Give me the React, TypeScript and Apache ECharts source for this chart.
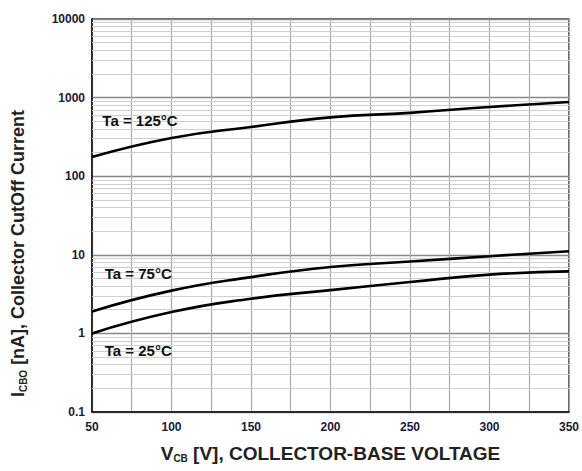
import React, { useEffect, useRef } from "react";
import * as echarts from "echarts";

const voltages = [50, 100, 150, 200, 250, 300, 350];
const ta125 = [175, 306, 423, 560, 640, 760, 880];
const ta75 = [1.9, 3.5, 5.2, 7.0, 8.2, 9.6, 11.1];
const ta25 = [1.0, 1.87, 2.76, 3.55, 4.5, 5.6, 6.15];
const yTickLabels = ["0.1", "1", "10", "100", "1000", "10000"];
const decades = [0.1, 1, 10, 100, 1000];
const minorMultipliers = [2, 3, 4, 5, 6, 7, 8, 9];
const curveLabels = [
  { name: "Ta = 125°C", x: 56.5, y: 504 },
  { name: "Ta = 75°C", x: 58, y: 5.8 },
  { name: "Ta = 25°C", x: 58, y: 0.61 },
];

const FONT = "Liberation Sans";

export default function App() {
  const ref = useRef<HTMLDivElement>(null);
  useEffect(() => {
    if (!ref.current) return;
    const chart = echarts.init(ref.current, undefined, { renderer: "svg" });
    const minorLines: any[] = [];
    decades.forEach((d) => minorMultipliers.forEach((m) => minorLines.push({ yAxis: +(d * m).toPrecision(3) })));
    const curveStyle = { color: "#000", width: 2.6 };
    const mk = (vals: number[]) => voltages.map((v, i) => [v, vals[i]]);
    const makeRich = (size: number) => ({
      b: { fontFamily: FONT, fontWeight: "bold", fontSize: size, color: "#222" },
      sub: { fontFamily: FONT, fontWeight: "bold", fontSize: 10, color: "#222", padding: [10, 0, 0, 0] },
    });
    chart.setOption({
      animation: false,
      backgroundColor: "#fff",
      grid: {
        left: 92,
        right: 12,
        top: 19,
        bottom: 59,
        show: true,
        borderColor: "#333",
        borderWidth: 1.5,
      },
      xAxis: {
        type: "value",
        min: 50,
        max: 350,
        interval: 25,
        name: "{b|V}{sub|CB}{b| [V], COLLECTOR-BASE VOLTAGE}",
        nameLocation: "middle",
        nameGap: 31,
        nameTextStyle: { rich: makeRich(19) },
        axisLine: { show: true, lineStyle: { color: "#111", width: 1.5 } },
        axisTick: { show: false },
        axisLabel: {
          fontFamily: FONT,
          fontWeight: "bold",
          fontSize: 12,
          color: "#1a1a3a",
          margin: 9,
          formatter: (v: number) => (v % 50 === 0 ? String(v) : ""),
        },
        splitLine: { show: true, lineStyle: { color: "#aaa", width: 1.2 } },
      },
      yAxis: {
        type: "log",
        logBase: 10,
        min: 0.1,
        max: 10000,
        name: "{b|I}{sub|CBO}{b| [nA], Collector CutOff Current}",
        nameLocation: "middle",
        nameRotate: 90,
        nameGap: 64,
        nameTextStyle: { rich: makeRich(18), padding: [0, 76, 0, 0] },
        axisLine: { show: true, lineStyle: { color: "#111", width: 1.5 } },
        axisTick: { show: false },
        axisLabel: {
          fontFamily: FONT,
          fontWeight: "bold",
          fontSize: 12,
          color: "#1a1a3a",
          margin: 7,
          formatter: (v: number) => {
            const idx = Math.round(Math.log10(v)) + 1;
            return yTickLabels[idx] ?? "";
          },
        },
        splitLine: { show: true, lineStyle: { color: "#888", width: 1.3 } },
      },
      series: [
        {
          type: "line",
          data: [],
          silent: true,
          markLine: {
            silent: true,
            symbol: ["none", "none"],
            label: { show: false },
            lineStyle: { color: "#cfcfcf", width: 1, type: "solid" },
            data: minorLines,
          },
        },
        {
          name: "Ta = 125°C",
          type: "line",
          data: mk(ta125),
          smooth: true,
          showSymbol: false,
          lineStyle: curveStyle,
          z: 5,
        },
        {
          name: "Ta = 75°C",
          type: "line",
          data: mk(ta75),
          smooth: true,
          showSymbol: false,
          lineStyle: curveStyle,
          z: 5,
        },
        {
          name: "Ta = 25°C",
          type: "line",
          data: mk(ta25),
          smooth: true,
          showSymbol: false,
          lineStyle: curveStyle,
          z: 5,
          markPoint: {
            silent: true,
            symbol: "rect",
            symbolSize: 0,
            data: curveLabels.map((c) => ({
              coord: [c.x, c.y],
              label: {
                show: true,
                formatter: c.name,
                position: "right",
                distance: 0,
                fontFamily: FONT,
                fontWeight: "bold",
                fontSize: 15,
                color: "#111",
              },
            })),
          },
        },
      ],
    });
    return () => chart.dispose();
  }, []);
  return <div ref={ref} style={{ width: 582, height: 471, position: "absolute", left: 0, top: 0 }} />;
}
